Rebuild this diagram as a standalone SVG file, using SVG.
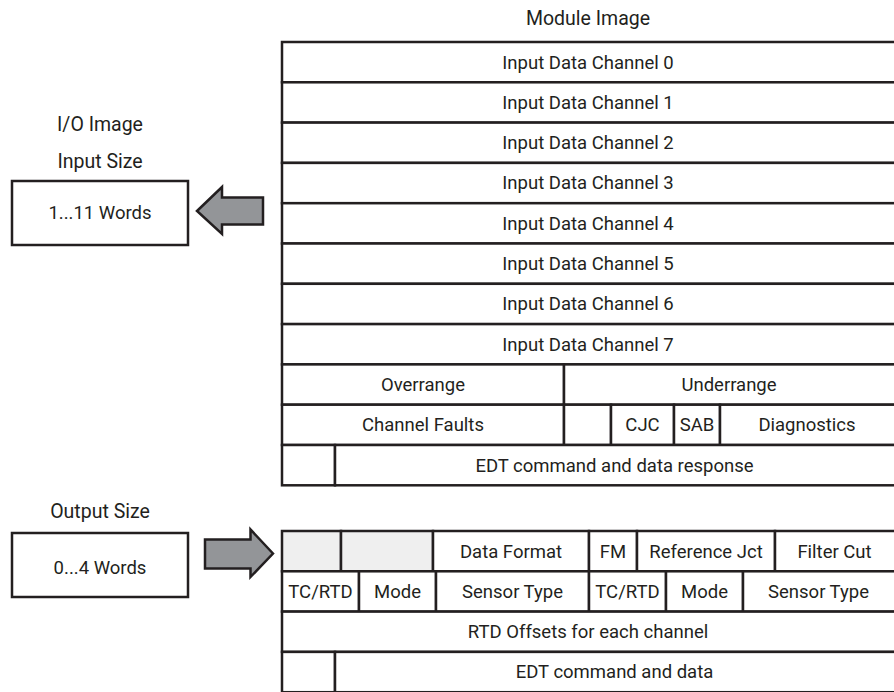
<svg xmlns="http://www.w3.org/2000/svg" width="894" height="692" viewBox="0 0 894 692">
<style>
text{font-family:Roboto,"Liberation Sans",sans-serif;font-size:18.5px;fill:#231f20;text-anchor:middle}
text.t{font-size:19.5px}
.c{fill:#fff;stroke:#231f20;stroke-width:2.5}
.g{fill:#efefef;stroke:#231f20;stroke-width:2.5}
.a{fill:#939598;stroke:#231f20;stroke-width:2.5;stroke-linejoin:miter}
</style>
<rect width="894" height="692" fill="#fff"/>
<text class="t" x="588" y="25">Module Image</text>
<g id="io-input">
<text class="t" x="100" y="131">I/O Image</text>
<text class="t" x="100" y="168">Input Size</text>
<rect class="c" x="12" y="181" width="176" height="64"/>
<text x="100" y="219">1...11 Words</text>
</g>
<g id="io-output">
<text class="t" x="100" y="518">Output Size</text>
<rect class="c" x="12" y="533" width="176" height="64"/>
<text x="100" y="574">0...4 Words</text>
</g>
<g id="module-image">
<rect class="c" x="282" y="42" width="614" height="40.3"/><text x="588" y="68.5">Input Data Channel 0</text>
<rect class="c" x="282" y="82.3" width="614" height="40.3"/><text x="588" y="108.8">Input Data Channel 1</text>
<rect class="c" x="282" y="122.6" width="614" height="40.3"/><text x="588" y="149.1">Input Data Channel 2</text>
<rect class="c" x="282" y="162.9" width="614" height="40.3"/><text x="588" y="189.4">Input Data Channel 3</text>
<rect class="c" x="282" y="203.2" width="614" height="40.3"/><text x="588" y="229.7">Input Data Channel 4</text>
<rect class="c" x="282" y="243.5" width="614" height="40.3"/><text x="588" y="270">Input Data Channel 5</text>
<rect class="c" x="282" y="283.8" width="614" height="40.3"/><text x="588" y="310.3">Input Data Channel 6</text>
<rect class="c" x="282" y="324.1" width="614" height="40.3"/><text x="588" y="350.6">Input Data Channel 7</text>
<rect class="c" x="282" y="364.4" width="282" height="40.3"/><text x="423" y="390.9">Overrange</text>
<rect class="c" x="564" y="364.4" width="332" height="40.3"/><text x="729" y="390.9">Underrange</text>
<rect class="c" x="282" y="404.7" width="282" height="40.3"/><text x="423" y="431.2">Channel Faults</text>
<rect class="c" x="564" y="404.7" width="47" height="40.3"/>
<rect class="c" x="611" y="404.7" width="63" height="40.3"/><text x="642.5" y="431.2">CJC</text>
<rect class="c" x="674" y="404.7" width="46" height="40.3"/><text x="697" y="431.2">SAB</text>
<rect class="c" x="720" y="404.7" width="176" height="40.3"/><text x="807" y="431.2">Diagnostics</text>
<rect class="c" x="282" y="445" width="53" height="40.3"/>
<rect class="c" x="335" y="445" width="561" height="40.3"/><text x="614.5" y="471.5">EDT command and data response</text>
</g>
<g id="output-image">
<rect class="g" x="282" y="531" width="59" height="40.3"/>
<rect class="g" x="341" y="531" width="92" height="40.3"/>
<rect class="c" x="433" y="531" width="156" height="40.3"/><text x="511" y="557.5">Data Format</text>
<rect class="c" x="589" y="531" width="48" height="40.3"/><text x="613" y="557.5">FM</text>
<rect class="c" x="637" y="531" width="138" height="40.3"/><text x="706" y="557.5">Reference Jct</text>
<rect class="c" x="775" y="531" width="121" height="40.3"/><text x="834.5" y="557.5">Filter Cut</text>
<rect class="c" x="282" y="571.3" width="77" height="40.3"/><text x="320.5" y="597.8">TC/RTD</text>
<rect class="c" x="359" y="571.3" width="77" height="40.3"/><text x="397.5" y="597.8">Mode</text>
<rect class="c" x="436" y="571.3" width="153" height="40.3"/><text x="512.5" y="597.8">Sensor Type</text>
<rect class="c" x="589" y="571.3" width="77" height="40.3"/><text x="627.5" y="597.8">TC/RTD</text>
<rect class="c" x="666" y="571.3" width="77" height="40.3"/><text x="704.5" y="597.8">Mode</text>
<rect class="c" x="743" y="571.3" width="153" height="40.3"/><text x="818.5" y="597.8">Sensor Type</text>
<rect class="c" x="282" y="611.6" width="614" height="40.3"/><text x="588" y="638.1">RTD Offsets for each channel</text>
<rect class="c" x="282" y="651.9" width="53" height="40.3"/>
<rect class="c" x="335" y="651.9" width="561" height="40.3"/><text x="614.5" y="678.4">EDT command and data</text>
</g>
<g id="connectors">
<polygon class="a" points="197,211 222,187 222,197.5 263,197.5 263,224.5 222,224.5 222,234"/>
<polygon class="a" points="273,553.5 250.5,529.5 250.5,539.5 205,539.5 205,568.5 250.5,568.5 250.5,577"/>
</g>
</svg>
